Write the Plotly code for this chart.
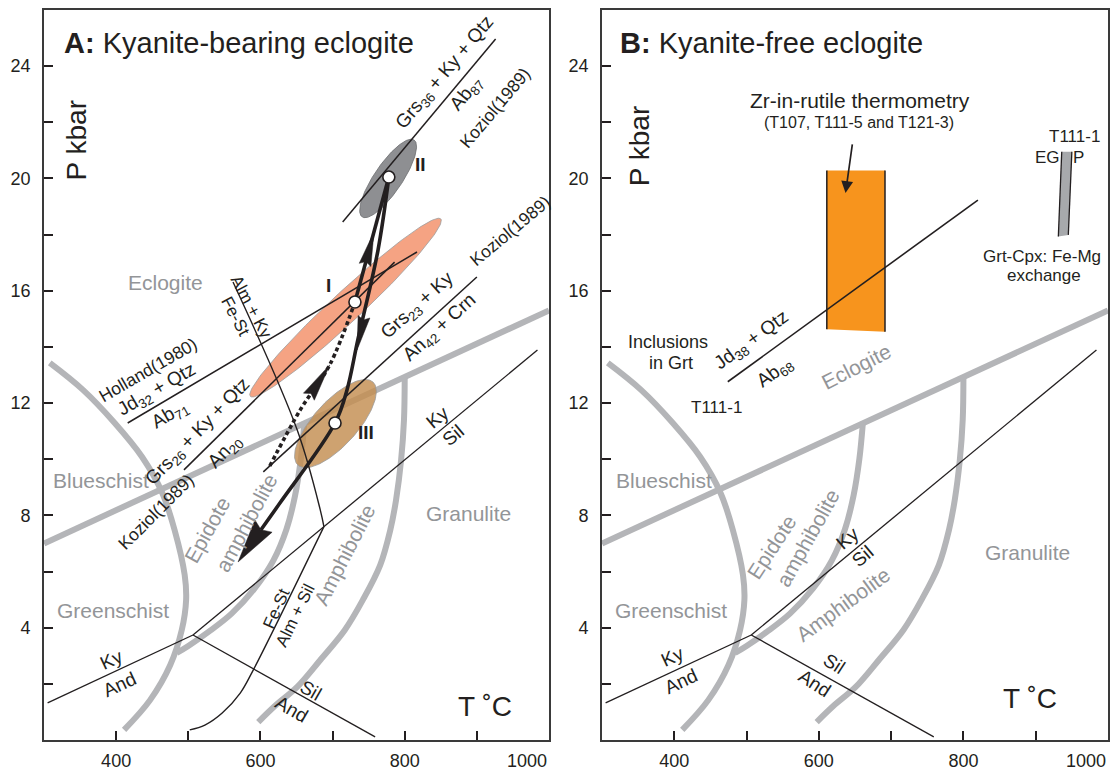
import numpy as np
import plotly.graph_objects as go

FONT = "Liberation Sans, Arial, Helvetica, sans-serif"
INK = "#231f20"
FACIES_GREY = "#b4b5b8"
LABEL_GREY = "#939598"

W, H = 1113, 770
M_L, M_R, M_T, M_B = 44, 5, 10, 30
T_MIN, T_MAX = 300, 1000
P_MIN, P_MAX = 0, 26

# ---------------- facies boundaries (T degC, P kbar), both panels
GREENSCHIST_T = [308, 354, 398, 436, 464, 481, 495, 497, 491, 475, 447, 411]
GREENSCHIST_P = [13.43, 12.47, 11.29, 10.08, 8.80, 7.48, 5.88, 4.99, 3.92, 2.67, 1.42, 0.36]
BLUESCHIST_T = [300, 1000]
BLUESCHIST_P = [7.0, 15.3]
EPIDOTE_AMP_T = [661, 656, 648, 636, 618, 592, 560, 528, 500, 484]
EPIDOTE_AMP_P = [11.33, 10.0, 8.7, 7.5, 6.4, 5.4, 4.5, 3.85, 3.35, 3.1]
AMPHIBOLITE_T = [800, 799, 795, 788, 780, 766, 742, 717, 683, 651, 620, 597]
AMPHIBOLITE_P = [12.89, 11.40, 9.97, 8.55, 7.48, 6.23, 4.99, 3.92, 2.85, 1.89, 1.21, 0.64]

# ---------------- Al2SiO5 polymorph reactions
KY_AND_T = [305, 506.5]
KY_AND_P = [1.32, 3.74]
SIL_AND_T = [506.5, 759]
SIL_AND_P = [3.74, 0.11]
KY_SIL_T = [506.5, 984]
KY_SIL_P = [3.74, 13.89]

# ---------------- panel A reactions
FE_ST_T = [562, 651, 683, 688, 590, 572, 547, 523, 502]
FE_ST_P = [16.31, 11.04, 8.19, 7.6, 2.49, 1.67, 0.96, 0.53, 0.36]
JD32_T = [416, 817]
JD32_P = [11.29, 17.38]
GRS26_T = [494, 786]
GRS26_P = [9.62, 17.02]
GRS23_T = [604, 900]
GRS23_P = [9.55, 16.49]
GRS36_T = [714, 926]
GRS36_P = [18.45, 24.97]

# ---------------- panel A P-T estimates (centre, axis tip, half width in px)
STAGE_I = dict(c=(718, 15.4), tip=(850, 18.56), hw=15)
STAGE_II = dict(c=(777, 20.0), tip=(813, 21.37), hw=14)
STAGE_III = dict(c=(704, 11.27), tip=(756, 12.75), hw=22)

STAGE_PT_T = [731, 778, 703.4]
STAGE_PT_P = [15.6, 20.05, 11.29]

# ---------------- P-T path
PROGRADE_DOT_T = [613, 655, 696, 731]
PROGRADE_DOT_P = [9.76, 11.75, 13.36, 15.6]
PROGRADE_T = [731, 778]
PROGRADE_P = [15.6, 20.05]
RETRO_T = [778, 763, 735, 720, 703.4, 627, 569]
RETRO_P = [20.05, 17.45, 14.25, 12.47, 11.29, 8.44, 6.34]

# ---------------- panel B
JD38_T = [474, 820]
JD38_P = [12.76, 19.23]
ZR_T = [611, 691.5]
ZR_P_TOP = [20.28, 20.28]
ZR_P_BOTTOM = [14.63, 14.54]
GRTCPX_T_TOP = [936, 950]
GRTCPX_T_BOTTOM = [931.3, 945.1]
GRTCPX_P_TOP = [20.95, 20.95]
GRTCPX_P_BOTTOM = [17.93, 17.99]

X_TICKS = [400, 500, 600, 700, 800, 900]
X_TICKTEXT = ["400", "", "600", "", "800", ""]
Y_TICKS = list(range(2, 26, 2))
Y_TICKTEXT = [str(v) if v % 4 == 0 else "" for v in Y_TICKS]

PLOT_W = W - M_L - M_R
PLOT_H = H - M_T - M_B
PANEL_A_PX = 505
PANEL_B_START = 558
SX = PANEL_A_PX / (T_MAX - T_MIN)
SY = PLOT_H / (P_MAX - P_MIN)

AX_A = ("x", "y")
AX_B = ("x2", "y2")

fig = go.Figure()


def line(ax, T, P, color=INK, width=1.4, dash=None, shape="linear"):
    fig.add_trace(go.Scatter(x=T, y=P, mode="lines",
                             line=dict(color=color, width=width, dash=dash,
                                       shape=shape, smoothing=1.0),
                             xaxis=ax[0], yaxis=ax[1], hoverinfo="skip",
                             showlegend=False))


def poly(ax, T, P, fill, outline=None, width=0.0):
    fig.add_trace(go.Scatter(x=list(T), y=list(P), mode="lines", fill="toself",
                             fillcolor=fill,
                             line=dict(color=outline or fill, width=width),
                             xaxis=ax[0], yaxis=ax[1], hoverinfo="skip",
                             showlegend=False))


def ellipse_outline(c, tip, hw, n=160):
    cT, cP = c
    ux, uy = (tip[0] - cT) * SX, (tip[1] - cP) * SY
    a = np.hypot(ux, uy)
    ux, uy = ux / a, uy / a
    nx, ny = -uy, ux
    t = np.linspace(0, 2 * np.pi, n)
    dx = a * np.cos(t) * ux + hw * np.sin(t) * nx
    dy = a * np.cos(t) * uy + hw * np.sin(t) * ny
    return cT + dx / SX, cP + dy / SY


def arrow_head(tip, back, length, width):
    dx, dy = (tip[0] - back[0]) * SX, (tip[1] - back[1]) * SY
    d = np.hypot(dx, dy)
    dx, dy = dx / d, dy / d
    nx, ny = -dy, dx
    bx, by = -dx * length, -dy * length
    xs = np.array([0, bx + nx * width / 2, bx * 0.9, bx - nx * width / 2, 0])
    ys = np.array([0, by + ny * width / 2, by * 0.9, by - ny * width / 2, 0])
    base = (tip[0] + bx * 0.9 / SX, tip[1] + by * 0.9 / SY)
    return tip[0] + xs / SX, tip[1] + ys / SY, base


def label(ax, text, T, P, size, angle=0, color=INK, xanchor="center"):
    fig.add_annotation(x=T, y=P, xref=ax[0], yref=ax[1], text=text,
                       showarrow=False, textangle=angle, xanchor=xanchor,
                       yanchor="middle",
                       font=dict(family=FONT, size=size, color=color))


# ---------------- facies grid in both panels
for ax in (AX_A, AX_B):
    line(ax, BLUESCHIST_T, BLUESCHIST_P, color=FACIES_GREY, width=6)
    for T, P in ((GREENSCHIST_T, GREENSCHIST_P), (EPIDOTE_AMP_T, EPIDOTE_AMP_P),
                 (AMPHIBOLITE_T, AMPHIBOLITE_P)):
        line(ax, T, P, color=FACIES_GREY, width=6, shape="spline")

# ---------------- panel A: P-T fields
for st, fill, edge in ((STAGE_I, "#f5a383", "#9d9d9d"),
                       (STAGE_II, "#8e8f92", "#6b6c6f"),
                       (STAGE_III, "rgba(195,142,80,0.82)", "#9a9a9a")):
    eT, eP = ellipse_outline(st["c"], st["tip"], st["hw"])
    poly(AX_A, eT, eP, fill, edge, 0.8)

for ax in (AX_A, AX_B):
    for T, P in ((KY_AND_T, KY_AND_P), (SIL_AND_T, SIL_AND_P), (KY_SIL_T, KY_SIL_P)):
        line(ax, T, P, width=1.3)

# ---------------- panel A reactions
line(AX_A, FE_ST_T[:4], FE_ST_P[:4], width=1.4, shape="spline")
line(AX_A, FE_ST_T[3:], FE_ST_P[3:], width=1.4, shape="spline")
for T, P in ((JD32_T, JD32_P), (GRS26_T, GRS26_P),
             (GRS23_T, GRS23_P), (GRS36_T, GRS36_P)):
    line(AX_A, T, P, width=1.5)

# ---------------- panel A: P-T path
line(AX_A, PROGRADE_DOT_T, PROGRADE_DOT_P, width=3.6, dash="4px,3px", shape="spline")
line(AX_A, PROGRADE_T, PROGRADE_P, width=3.6)

heads = [
    ((PROGRADE_DOT_T[2], PROGRADE_DOT_P[2]), (PROGRADE_DOT_T[1], PROGRADE_DOT_P[1]), 38, 13),
    ((757.4, 18.09), (PROGRADE_T[0], PROGRADE_P[0]), 34, 12),
    ((733.9, 13.89), (RETRO_T[1], RETRO_P[1]), 34, 12),
    ((RETRO_T[-1], RETRO_P[-1]), (RETRO_T[-2], RETRO_P[-2]), 44, 21),
]
end_base = None
for i, (tip, back, L, Wd) in enumerate(heads):
    hT, hP, base = arrow_head(tip, back, L, Wd)
    poly(AX_A, hT, hP, INK, INK, 0.5)
    if i == len(heads) - 1:
        end_base = base

retro_T = RETRO_T[:-1] + [end_base[0]]
retro_P = RETRO_P[:-1] + [end_base[1]]
line(AX_A, retro_T, retro_P, width=3.6, shape="spline")

fig.add_trace(go.Scatter(x=STAGE_PT_T, y=STAGE_PT_P, mode="markers",
                         marker=dict(size=12, color="white",
                                     line=dict(color=INK, width=1.6)),
                         xaxis="x", yaxis="y", hoverinfo="skip",
                         showlegend=False))

# ---------------- panel B
poly(AX_B, [ZR_T[0], ZR_T[1], ZR_T[1], ZR_T[0]],
     [ZR_P_TOP[0], ZR_P_TOP[1], ZR_P_BOTTOM[1], ZR_P_BOTTOM[0]], "#f7941d")
line(AX_B, [ZR_T[0], ZR_T[0]], [ZR_P_BOTTOM[0], ZR_P_TOP[0]], width=1.5)
line(AX_B, [ZR_T[1], ZR_T[1]], [ZR_P_BOTTOM[1], ZR_P_TOP[1]], width=1.5)

poly(AX_B, [GRTCPX_T_TOP[0], GRTCPX_T_TOP[1], GRTCPX_T_BOTTOM[1], GRTCPX_T_BOTTOM[0]],
     [GRTCPX_P_TOP[0], GRTCPX_P_TOP[1], GRTCPX_P_BOTTOM[1], GRTCPX_P_BOTTOM[0]],
     "#a7a9ac")
line(AX_B, [GRTCPX_T_TOP[0], GRTCPX_T_BOTTOM[0]], [GRTCPX_P_TOP[0], GRTCPX_P_BOTTOM[0]], width=1.3)
line(AX_B, [GRTCPX_T_TOP[1], GRTCPX_T_BOTTOM[1]], [GRTCPX_P_TOP[1], GRTCPX_P_BOTTOM[1]], width=1.3)

line(AX_B, JD38_T, JD38_P, width=1.6)

fig.add_annotation(x=636.9, y=19.48, ax=646.6, ay=21.27, xref="x2", yref="y2",
                   axref="x2", ayref="y2", showarrow=True, arrowhead=2,
                   arrowsize=1.4, arrowwidth=1.7, arrowcolor=INK, text="")

# ---------------- text: panel A
label(AX_A, "<b>A:</b> Kyanite-bearing eclogite", 325, 24.82, 29, xanchor="left")
label(AX_A, "P kbar", 345, 21.37, 28, angle=-90)
label(AX_A, "T \u02daC", 911, 1.18, 28)
label(AX_A, "Eclogite", 468, 16.28, 21, color=LABEL_GREY)
label(AX_A, "Blueschist", 379, 9.26, 21, color=LABEL_GREY)
label(AX_A, "Greenschist", 395, 4.63, 21, color=LABEL_GREY)
label(AX_A, "Granulite", 888, 8.08, 21, color=LABEL_GREY)
label(AX_A, "Epidote", 527, 7.48, 21, angle=-61, color=LABEL_GREY)
label(AX_A, "amphibolite", 581, 7.73, 21, angle=-62, color=LABEL_GREY)
label(AX_A, "Amphibolite", 717, 6.59, 21, angle=-63, color=LABEL_GREY)
label(AX_A, "<b>I</b>", 695, 16.2, 19)
label(AX_A, "<b>II</b>", 822, 20.5, 19)
label(AX_A, "<b>III</b>", 746, 10.97, 19)
label(AX_A, "Holland(1980)", 444, 13.18, 17.5, angle=-30)
label(AX_A, "Jd<sub>32</sub> + Qtz", 457, 12.47, 19, angle=-30)
label(AX_A, "Ab<sub>71</sub>", 475, 11.58, 19, angle=-30)
label(AX_A, "Grs<sub>26</sub> + Ky + Qtz", 514, 10.97, 19, angle=-46)
label(AX_A, "An<sub>20</sub>", 551, 10.26, 19, angle=-46)
label(AX_A, "Koziol(1989)", 455, 8.12, 17.5, angle=-45)
label(AX_A, "Alm + Ky", 588, 15.42, 17, angle=62)
label(AX_A, "Fe-St", 565, 15.07, 17, angle=62)
label(AX_A, "Fe-St", 622, 4.70, 17, angle=-66)
label(AX_A, "Alm + Sil", 648, 4.45, 17, angle=-64)
label(AX_A, "Ky", 394, 2.88, 19, angle=-25)
label(AX_A, "And", 405, 1.96, 19, angle=-25)
label(AX_A, "Sil", 670, 1.75, 19, angle=30)
label(AX_A, "And", 644, 1.10, 19, angle=30)
label(AX_A, "Ky", 845, 11.5, 19, angle=-40)
label(AX_A, "Sil", 867, 10.83, 19, angle=-40)
label(AX_A, "Grs<sub>36</sub> + Ky + Qtz", 856, 23.76, 19, angle=-50)
label(AX_A, "Ab<sub>87</sub>", 886, 23.0, 19, angle=-50)
label(AX_A, "Koziol(1989)", 925, 22.51, 17.5, angle=-50)
label(AX_A, "Grs<sub>23</sub> + Ky", 818, 15.46, 19, angle=-42)
label(AX_A, "An<sub>42</sub> + Crn", 849, 14.67, 19, angle=-42)
label(AX_A, "Koziol(1989)", 946, 18.13, 17.5, angle=-40)

# ---------------- text: panel B
label(AX_B, "<b>B:</b> Kyanite-free eclogite", 322, 24.82, 29, xanchor="left")
label(AX_B, "P kbar", 353, 21.16, 28, angle=-90)
label(AX_B, "T \u02daC", 892, 1.48, 28)
label(AX_B, "Zr-in-rutile thermometry", 657, 22.79, 21)
label(AX_B, "(T107, T111-5 and T121-3)", 655, 22.0, 16)
label(AX_B, "Inclusions", 391, 14.19, 18)
label(AX_B, "in Grt", 395, 13.43, 18)
label(AX_B, "T111-1", 458, 11.84, 17)
label(AX_B, "Jd<sub>38</sub> + Qtz", 507, 14.21, 19, angle=-36)
label(AX_B, "Ab<sub>68</sub>", 539, 13.07, 19, angle=-36)
label(AX_B, "Eclogite", 652, 13.3, 21, angle=-27, color=LABEL_GREY)
label(AX_B, "Blueschist", 386, 9.26, 21, color=LABEL_GREY)
label(AX_B, "Greenschist", 396, 4.63, 21, color=LABEL_GREY)
label(AX_B, "Epidote", 534, 6.87, 21, angle=-57, color=LABEL_GREY)
label(AX_B, "amphibolite", 584, 7.19, 21, angle=-61, color=LABEL_GREY)
label(AX_B, "Amphibolite", 633, 4.84, 21, angle=-36, color=LABEL_GREY)
label(AX_B, "Granulite", 889, 6.68, 21, color=LABEL_GREY)
label(AX_B, "Ky", 639, 7.19, 19, angle=-40)
label(AX_B, "Sil", 660, 6.55, 19, angle=-40)
label(AX_B, "Ky", 398, 2.99, 19, angle=-25)
label(AX_B, "And", 409, 2.10, 19, angle=-25)
label(AX_B, "Sil", 621, 2.74, 19, angle=33)
label(AX_B, "And", 595, 2.03, 19, angle=33)
label(AX_B, "T111-1", 954, 21.51, 17)
label(AX_B, "EG", 916, 20.75, 17)
label(AX_B, "P", 958.5, 20.75, 17)
label(AX_B, "Grt-Cpx: Fe-Mg", 908, 17.22, 17)
label(AX_B, "exchange", 911, 16.54, 17)

for ax in (AX_A, AX_B):
    fig.add_annotation(x=T_MAX, y=P_MIN, xref=ax[0], yref=ax[1], text="1000",
                       showarrow=False, xanchor="right", yanchor="top", yshift=-9,
                       font=dict(family=FONT, size=18, color=INK))

axis_style = dict(showline=True, linecolor="#3a3a3a", linewidth=1.6, mirror=True,
                  ticks="inside", ticklen=9, tickwidth=1.6, tickcolor=INK,
                  showgrid=False, zeroline=False, automargin=False,
                  tickfont=dict(family=FONT, size=18, color=INK))

fig.update_layout(
    width=W, height=H,
    margin=dict(l=M_L, r=M_R, t=M_T, b=M_B, autoexpand=False),
    paper_bgcolor="white", plot_bgcolor="white",
    showlegend=False,
    xaxis=dict(domain=[0, PANEL_A_PX / PLOT_W], range=[T_MIN, T_MAX],
               tickvals=X_TICKS, ticktext=X_TICKTEXT, anchor="y",
               ticklabelstandoff=4, **axis_style),
    yaxis=dict(domain=[0, 1], range=[P_MIN, P_MAX], tickvals=Y_TICKS,
               ticktext=Y_TICKTEXT, anchor="x", ticklabelstandoff=8, **axis_style),
    xaxis2=dict(domain=[PANEL_B_START / PLOT_W, 1], range=[T_MIN, T_MAX],
                tickvals=X_TICKS, ticktext=X_TICKTEXT, anchor="y2",
                ticklabelstandoff=4, **axis_style),
    yaxis2=dict(domain=[0, 1], range=[P_MIN, P_MAX], tickvals=Y_TICKS,
                ticktext=Y_TICKTEXT, anchor="x2", ticklabelstandoff=8, **axis_style),
)

fig.write_html("out.html")
